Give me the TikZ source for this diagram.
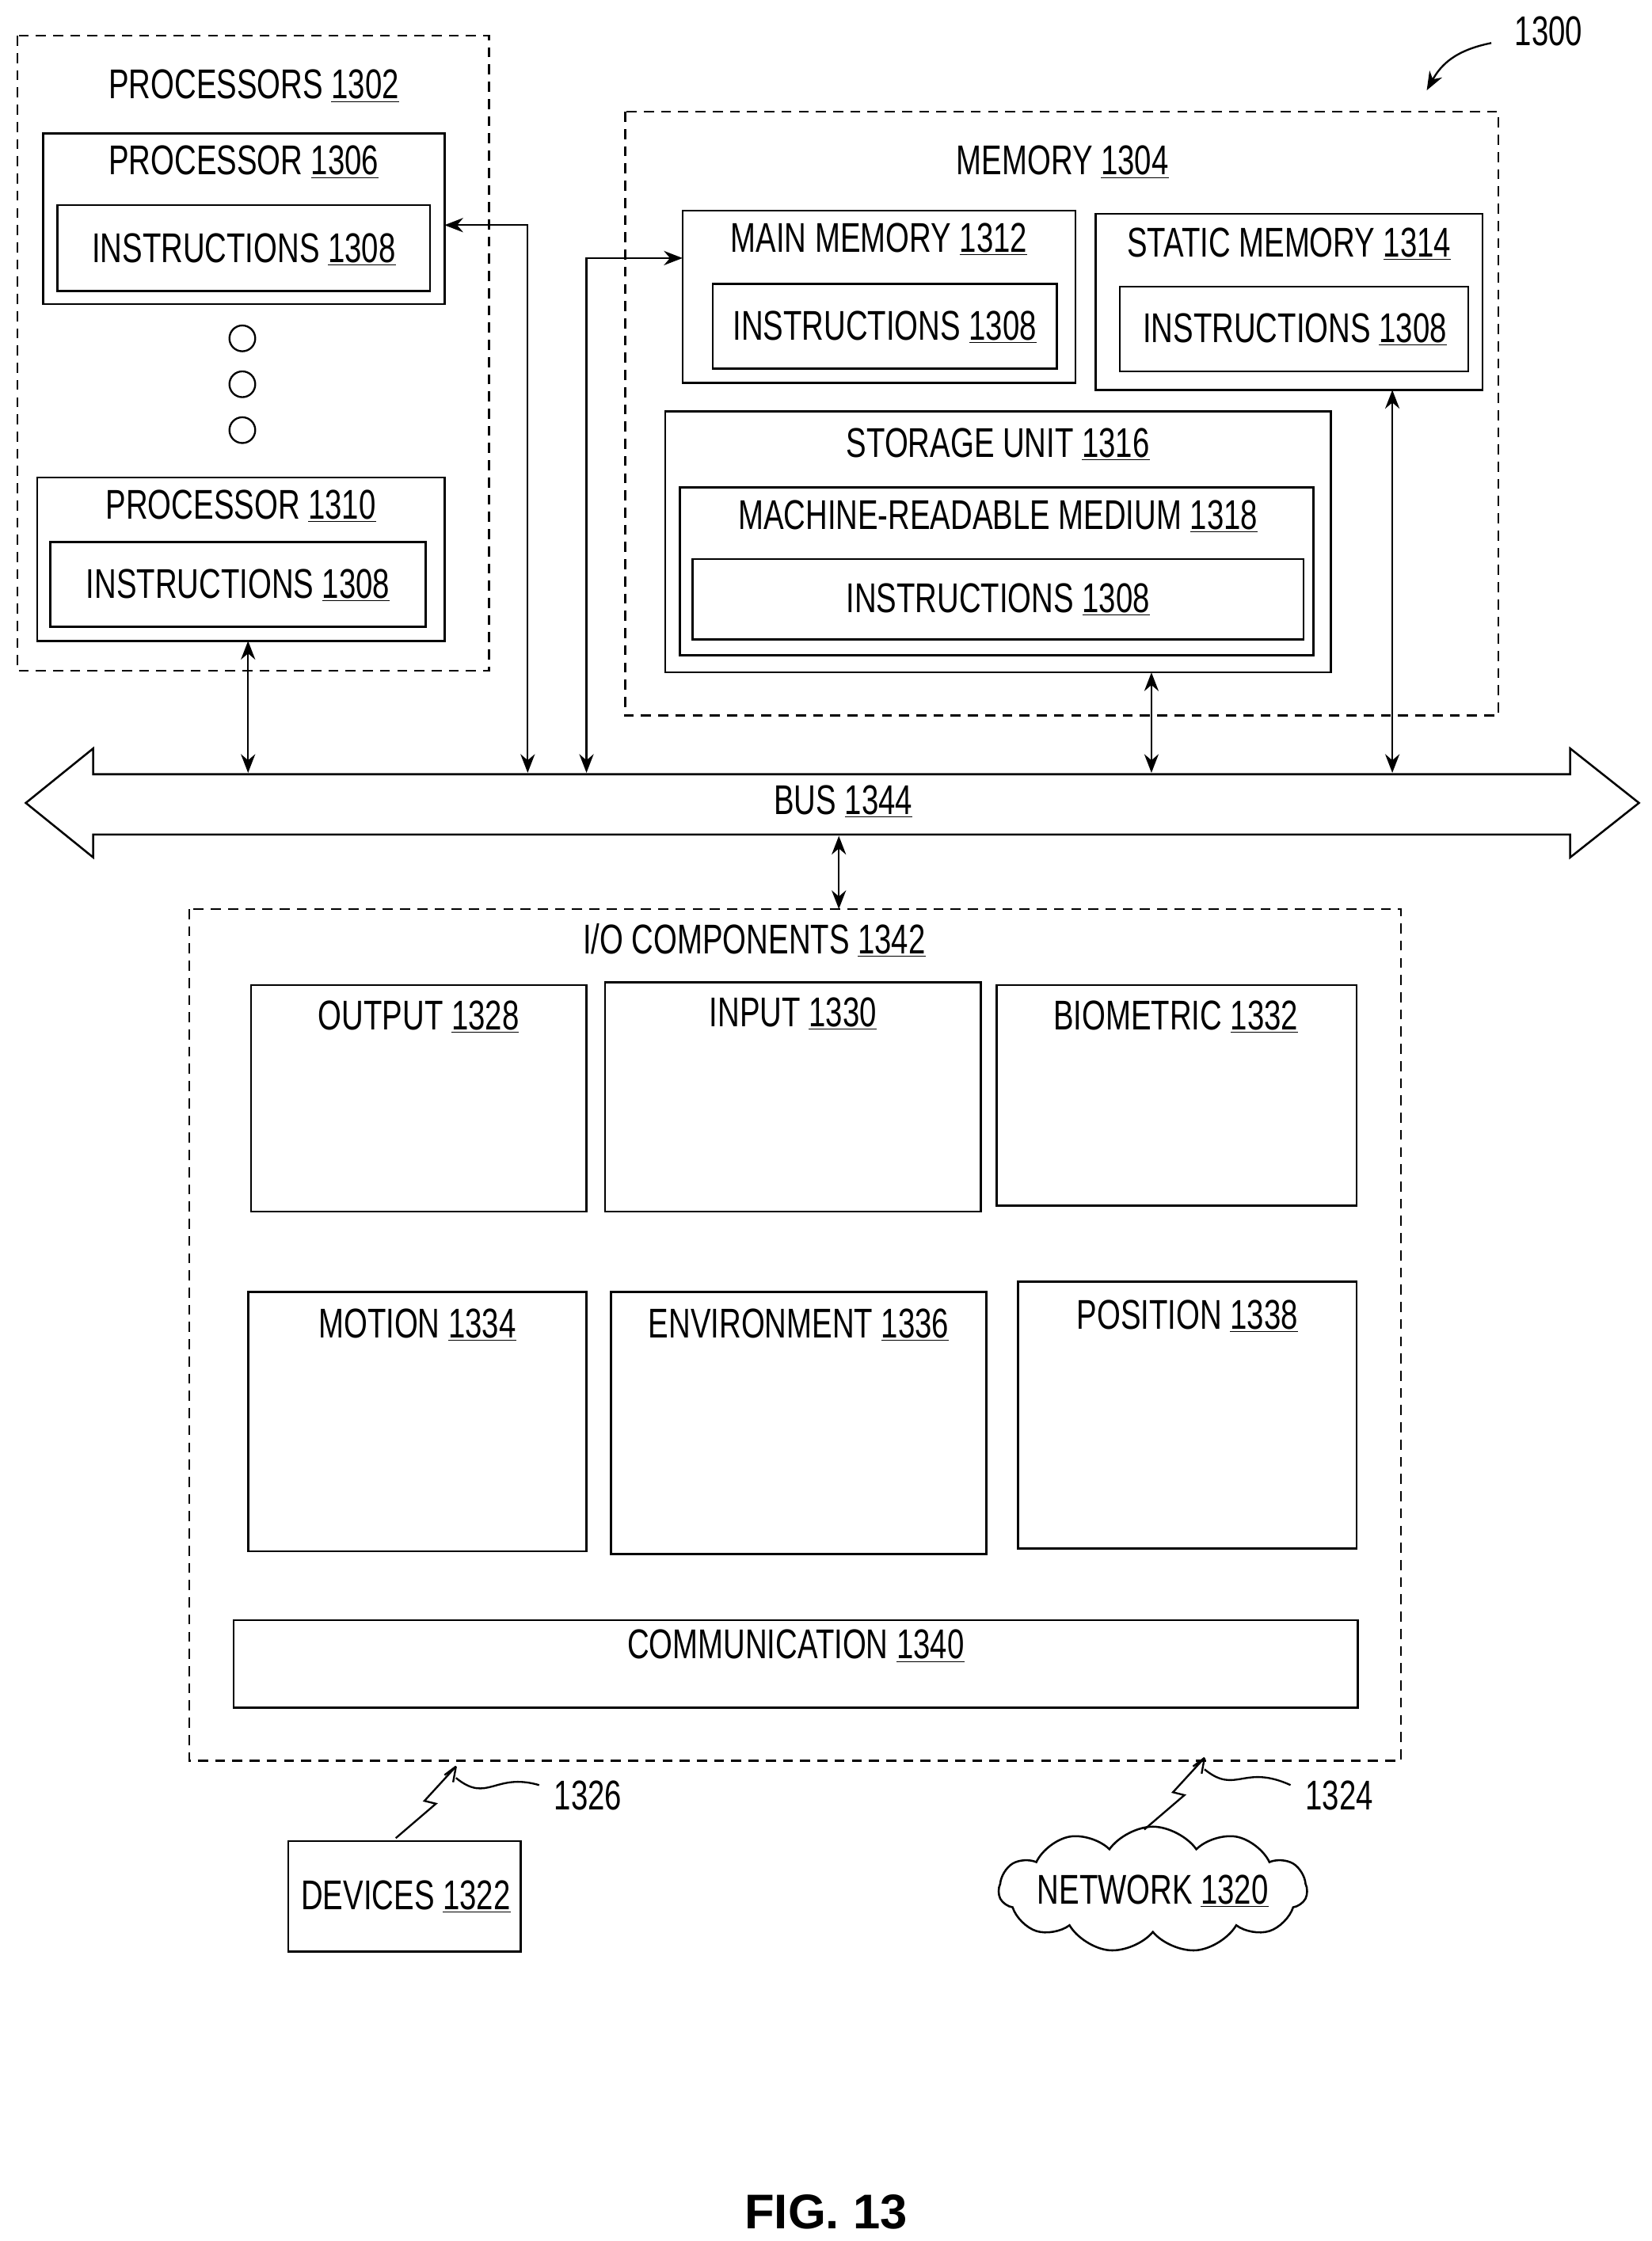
\documentclass[tikz,border=0pt]{standalone}
\usepackage{fontspec}
\setmainfont{Liberation Sans}[FakeStretch=0.73]
\newfontfamily\figfont{Liberation Sans}
\usetikzlibrary{shapes.symbols,arrows.meta}
\begin{document}
\begin{tikzpicture}[x=1pt,y=-1pt,
  bx/.style={draw,line width=1.4pt},
  dbx/.style={draw,line width=1.2pt,dash pattern=on 7pt off 5pt},
  lb/.style={font=\fontsize{29}{34}\selectfont,inner sep=0pt},
  ar/.style={line width=1.3pt,{Stealth[length=13pt,width=10pt]}-{Stealth[length=13pt,width=10pt]}},
  ar1/.style={line width=1.3pt,-{Stealth[length=13pt,width=10pt]}}]
\useasboundingbox (0,0) rectangle (1152,1563);
% processors
\draw[dbx] (12,25) rectangle (341,468);
\node[lb] (lp) at (177,60) {PROCESSORS \underline{1302}};
\draw[bx] (30,93) rectangle (310,212); \node[lb] at (170,113) {PROCESSOR \underline{1306}};
\draw[bx] (40,143) rectangle (300,203); \node[lb] at (170,174) {INSTRUCTIONS \underline{1308}};
\foreach \y in {236,268,300} \draw[line width=1.3pt] (169,\y) circle (9);
\draw[bx] (26,333) rectangle (310,447); \node[lb] at (168,353) {PROCESSOR \underline{1310}};
\draw[bx] (35,378) rectangle (297,437); \node[lb] at (166,408) {INSTRUCTIONS \underline{1308}};
% memory
\draw[dbx] (436,78) rectangle (1045,499);
\node[lb] at (741,113) {MEMORY \underline{1304}};
\draw[bx] (476,147) rectangle (750,267); \node[lb] at (613,167) {MAIN MEMORY \underline{1312}};
\draw[bx] (497,198) rectangle (737,257); \node[lb] at (617,228) {INSTRUCTIONS \underline{1308}};
\draw[bx] (764,149) rectangle (1034,272); \node[lb] at (899,170) {STATIC MEMORY \underline{1314}};
\draw[bx] (781,200) rectangle (1024,259); \node[lb] at (903,230) {INSTRUCTIONS \underline{1308}};
\draw[bx] (464,287) rectangle (928,469); \node[lb] at (696,310) {STORAGE UNIT \underline{1316}};
\draw[bx] (474,340) rectangle (916,457); \node[lb] at (696,360) {MACHINE-READABLE MEDIUM \underline{1318}};
\draw[bx] (483,390) rectangle (909,446); \node[lb] at (696,418) {INSTRUCTIONS \underline{1308}};
% bus
\draw[line width=1.4pt] (18,560) -- (65,522) -- (65,540) -- (1095,540) -- (1095,522) -- (1143,560) -- (1095,598) -- (1095,582) -- (65,582) -- (65,598) -- cycle;
\node[lb] at (588,559) {BUS \underline{1344}};
\draw[ar] (173,447) -- (173,539);
\draw[ar] (310,157) -- (368,157) -- (368,539);
\draw[ar] (409,539) -- (409,180) -- (476,180);
\draw[ar] (803,469) -- (803,539);
\draw[ar] (971,272) -- (971,539);
\draw[ar] (585,583) -- (585,634);
% IO
\draw[dbx] (132,634) rectangle (977,1228);
\node[lb] at (526,656) {I/O COMPONENTS \underline{1342}};
\draw[bx] (175,687) rectangle (409,845); \node[lb] at (292,709) {OUTPUT \underline{1328}};
\draw[bx] (422,685) rectangle (684,845); \node[lb] at (553,707) {INPUT \underline{1330}};
\draw[bx] (695,687) rectangle (946,841); \node[lb] at (820,709) {BIOMETRIC \underline{1332}};
\draw[bx] (173,901) rectangle (409,1082); \node[lb] at (291,924) {MOTION \underline{1334}};
\draw[bx] (426,901) rectangle (688,1084); \node[lb] at (557,924) {ENVIRONMENT \underline{1336}};
\draw[bx] (710,894) rectangle (946,1080); \node[lb] at (828,918) {POSITION \underline{1338}};
\draw[bx] (163,1130) rectangle (947,1191); \node[lb] at (555,1148) {COMMUNICATION \underline{1340}};
% devices / network
\draw[bx] (201,1284) rectangle (363,1361); \node[lb] at (283,1323) {DEVICES \underline{1322}};
\node[cloud,draw,line width=1.4pt,cloud puffs=11,cloud puff arc=110,aspect=2.6,minimum width=215pt,minimum height=88pt] at (804,1318) {};
\node[lb] at (804,1319) {NETWORK \underline{1320}};
\draw[line width=1.3pt] (276,1282) -- (304,1258) -- (296,1256) -- (318,1232) -- (310,1238);
\draw[line width=1.3pt] (318,1232) -- (316,1243);
\draw[line width=1.3pt] (318,1240) .. controls (340,1258) and (345,1236) .. (376,1245);
\node[lb] at (410,1252) {1326};
\draw[line width=1.3pt] (798,1276) -- (826,1252) -- (818,1250) -- (840,1226) -- (832,1232);
\draw[line width=1.3pt] (840,1226) -- (838,1237);
\draw[line width=1.3pt] (840,1234) .. controls (862,1252) and (867,1230) .. (900,1245);
\node[lb] at (934,1252) {1324};
\node[lb] at (1080,22) {1300};
\draw[ar1] (1040,30) .. controls (1015,35) and (1005,45) .. (995,63);
\node[font=\figfont\bfseries\fontsize{34}{40}\selectfont] at (576,1543) {FIG. 13};
\end{tikzpicture}
\end{document}
